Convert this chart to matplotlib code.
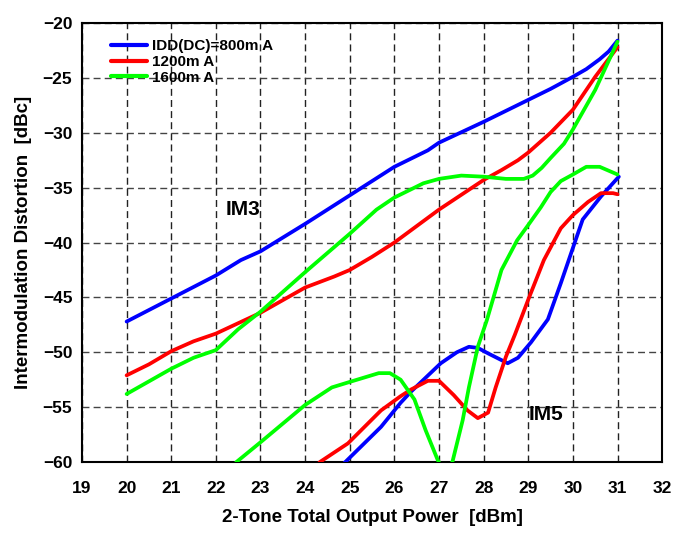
import matplotlib
matplotlib.use("Agg")
import matplotlib.pyplot as plt

plt.rcParams['font.family'] = ['Liberation Sans', 'DejaVu Sans']
plt.rcParams['font.weight'] = 'bold'

# ---- data ----
blue_im3_x = [20, 21, 22, 22.56, 23, 24, 25, 26, 26.75, 27, 28, 29, 29.5, 30, 30.3, 30.6, 30.8, 31]
blue_im3_y = [-47.2, -45.1, -43.0, -41.6, -40.8, -38.3, -35.7, -33.1, -31.6, -30.9, -29.0, -27.0, -26.0, -24.9, -24.2, -23.3, -22.6, -21.6]

red_im3_x = [20, 20.5, 21, 21.5, 22, 23, 24, 24.65, 25, 25.5, 26, 27, 28, 28.4, 28.77, 29, 29.5, 30, 30.5, 31]
red_im3_y = [-52.1, -51.1, -49.9, -49.0, -48.3, -46.4, -44.1, -43.1, -42.5, -41.3, -40.0, -37.0, -34.3, -33.4, -32.5, -31.8, -30.0, -27.9, -24.9, -22.2]

green_im3_x = [20, 21, 21.5, 22, 22.5, 23, 24, 25, 25.6, 26, 26.65, 27, 27.5, 28, 28.5, 28.9, 29.1, 29.3, 29.5, 29.8, 30, 30.5, 31]
green_im3_y = [-53.8, -51.5, -50.5, -49.8, -47.9, -46.3, -42.7, -39.2, -37.0, -35.9, -34.6, -34.2, -33.9, -34.0, -34.2, -34.2, -33.9, -33.2, -32.3, -31.0, -29.7, -26.1, -21.7]

blue_im5_x = [24.6, 24.9, 25.7, 26.14, 26.37, 27.04, 27.4, 27.67, 27.87, 28.1, 28.54, 28.77, 29.06, 29.44, 29.73, 30.0, 30.22, 30.63, 31.03]
blue_im5_y = [-61.2, -60.0, -56.8, -54.6, -53.6, -51.0, -50.0, -49.5, -49.6, -50.1, -51.0, -50.5, -49.1, -47.0, -43.7, -40.5, -37.9, -35.8, -34.0]

red_im5_x = [24.0, 24.33, 24.96, 25.7, 26.14, 26.37, 26.75, 27.0, 27.33, 27.64, 27.87, 28.1, 28.27, 28.5, 28.7, 29.0, 29.35, 29.73, 30.0, 30.34, 30.63, 30.9, 31.0]
red_im5_y = [-61.6, -60.0, -58.3, -55.3, -54.0, -53.4, -52.6, -52.6, -53.9, -55.3, -56.0, -55.5, -53.2, -50.4, -48.4, -45.2, -41.6, -38.7, -37.5, -36.3, -35.5, -35.5, -35.6]

green_im5_x = [22.2, 22.46, 23.0, 24.0, 24.6, 25.0, 25.65, 25.9, 26.14, 26.45, 26.7, 26.97, 27.12, 27.3, 27.53, 27.67, 27.87, 28.07, 28.2, 28.4, 28.75, 29.0, 29.28, 29.5, 29.73, 30.0, 30.3, 30.6, 31.0]
green_im5_y = [-61.8, -60.0, -58.2, -54.8, -53.2, -52.7, -51.9, -51.9, -52.5, -54.3, -57.1, -59.8, -61.0, -60.0, -56.2, -53.2, -49.5, -47.1, -45.3, -42.5, -39.8, -38.4, -36.8, -35.4, -34.4, -33.8, -33.1, -33.1, -33.8]

labels = ["IDD(DC)=800m A", "1200m A", "1600m A"]
colors = ["#0000FF", "#FF0000", "#00FF00"]
x_ticks = list(range(19, 33))
y_ticks = list(range(-60, -19, 5))

fig = plt.figure(figsize=(6.89, 5.36), dpi=100)
ax = fig.add_axes([0.119, 0.138, 0.842, 0.819])

lw = 2.7
series = [
    (blue_im3_x, blue_im3_y, blue_im5_x, blue_im5_y),
    (red_im3_x, red_im3_y, red_im5_x, red_im5_y),
    (green_im3_x, green_im3_y, green_im5_x, green_im5_y),
]
for (x3, y3, x5, y5), c, lab in zip(series, colors, labels):
    ax.plot(x3, y3, color=c, lw=lw, label=lab, solid_capstyle='round', solid_joinstyle='round', zorder=3)
    ax.plot(x5, y5, color=c, lw=lw, solid_capstyle='round', solid_joinstyle='round', zorder=3)

ax.set_xlim(19, 32)
ax.set_ylim(-60, -20)
ax.set_xticks(x_ticks)
ax.set_yticks(y_ticks)
ax.tick_params(length=0, labelsize=12.5)
ax.tick_params(axis='x', pad=14)
ax.tick_params(axis='y', pad=7)
for t in ax.get_xticklabels() + ax.get_yticklabels():
    t.set_fontweight('bold')

ax.grid(True, axis='x', color='#222222', linestyle=(0, (5, 3)), linewidth=1.0)
ax.grid(True, axis='y', color='#444444', linestyle=(0, (5, 3)), linewidth=1.0)
for s in ax.spines.values():
    s.set_linewidth(1.5)
    s.set_color('black')

ax.text(22.6, -37.0, "IM3", fontsize=15, fontweight='bold', ha='center', va='center')
ax.text(29.4, -55.7, "IM5", fontsize=15, fontweight='bold', ha='center', va='center')

ax.set_xlabel("2-Tone Total Output Power  [dBm]", fontsize=13.5, fontweight='bold', labelpad=9)
ax.set_ylabel("Intermodulation Distortion  [dBc]", fontsize=13.5, fontweight='bold', labelpad=8)

leg = ax.legend(loc='upper left', bbox_to_anchor=(0.145, 0.947), bbox_transform=fig.transFigure,
                frameon=False, fontsize=11, handlelength=2.4, handletextpad=0.3,
                labelspacing=0.12, borderpad=0.2)
for t in leg.get_texts():
    t.set_fontweight('bold')
for l in leg.get_lines():
    l.set_linewidth(3)

fig.savefig("out.png", dpi=100)
